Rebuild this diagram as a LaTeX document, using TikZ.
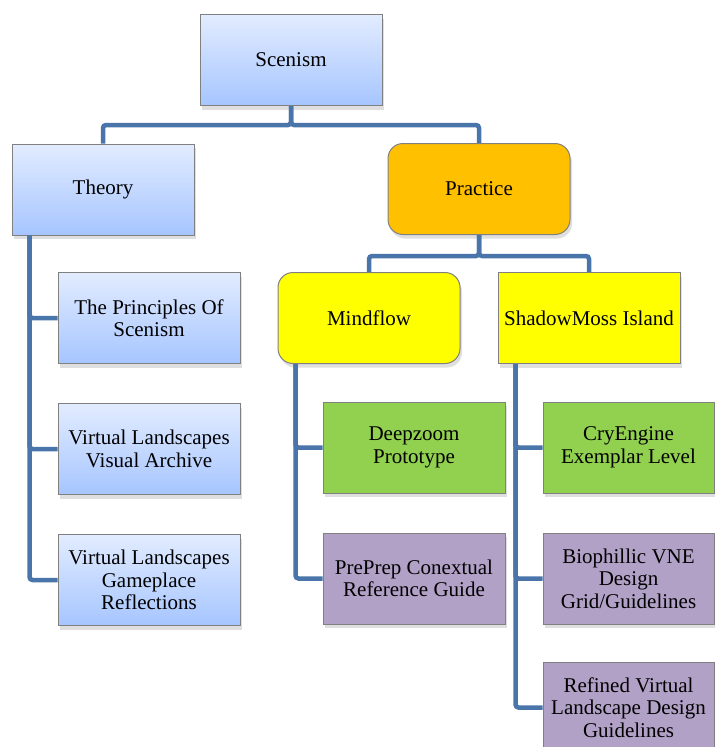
\documentclass[tikz,border=0pt]{standalone}
\usepackage{fontspec}
\setmainfont{Liberation Serif}
\usetikzlibrary{positioning, shadows}
\definecolor{linkblue}{HTML}{4A75AA}
\definecolor{boxtop}{HTML}{E2ECFF}
\definecolor{boxbot}{HTML}{A6C5FF}
\definecolor{practorange}{HTML}{FFC000}
\definecolor{projyellow}{HTML}{FFFF00}
\definecolor{protogreen}{HTML}{92D050}
\definecolor{guidepurple}{HTML}{B2A1C7}
\def\boxfont{\fontsize{21}{22.5}\selectfont}
\tikzset{x=1pt,y=-1pt,
  card/.style={draw=black!50, line width=1pt, minimum width=182pt, minimum height=91pt,
    align=center, font=\boxfont, inner sep=2pt,
    drop shadow={shadow xshift=2pt, shadow yshift=-4pt, opacity=.25}},
  bluecard/.style={card, top color=boxtop, bottom color=boxbot},
  roundcard/.style={card, rounded corners=15pt},
  link/.style={draw=linkblue, line width=4.5pt, rounded corners=3pt}}

\begin{document}
\begin{tikzpicture}
\path[use as bounding box, fill=white] (0,0) rectangle (715,747);
\clip (0,0) rectangle (715,747);

    % top of the tree
    \node[bluecard] (scenism) at (291,60) {Scenism};
    \node[bluecard] (theory) at (103,189.5) {Theory};
    \node[roundcard, fill=practorange] (practice) at (479,189) {Practice};
    \node[roundcard, fill=projyellow] (mindflow) at (369,318) {Mindflow};
    \node[card, fill=projyellow] (shadowmoss) at (589,318) {ShadowMoss Island};

    % theory column
    \node[bluecard] (principles) at (149,318) {The Principles Of\\Scenism};
    \node[bluecard, below=39pt of principles] (archive) {Virtual Landscapes\\Visual Archive};
    \node[bluecard, below=39pt of archive] (gameplace) {Virtual Landscapes\\Gameplace\\Reflections};

    % mindflow column
    \node[card, fill=protogreen] (deepzoom) at (414,447.5) {Deepzoom\\Prototype};
    \node[card, fill=guidepurple, below=39pt of deepzoom] (preprep) {PrePrep Conextual\\Reference Guide};

    % shadowmoss column
    \node[card, fill=protogreen, minimum width=171pt] (cryengine) at (628.5,447.5) {CryEngine\\Exemplar Level};
    \node[card, fill=guidepurple, minimum width=171pt, below=39pt of cryengine] (biophillic) {Biophillic VNE\\Design\\Grid/Guidelines};
    \node[card, fill=guidepurple, minimum width=171pt, below=37pt of biophillic] (refined) {Refined Virtual\\Landscape Design\\Guidelines};

    % connectors
    \draw[link] (scenism.south) -- ++(0,19) -| (theory.north);
    \draw[link] (scenism.south) -- ++(0,19) -| (practice.north);
    \draw[link] (practice.south) -- ++(0,21) -| (mindflow.north);
    \draw[link] (practice.south) -- ++(0,21) -| (shadowmoss.north);
    \foreach \child in {principles, archive, gameplace}
      \draw[link] ([xshift=18pt]theory.south west) |- (\child.west);
    \foreach \child in {deepzoom, preprep}
      \draw[link] ([xshift=18pt]mindflow.south west) |- (\child.west);
    \foreach \child in {cryengine, biophillic, refined}
      \draw[link] ([xshift=18pt]shadowmoss.south west) |- (\child.west);
\end{tikzpicture}
\end{document}
